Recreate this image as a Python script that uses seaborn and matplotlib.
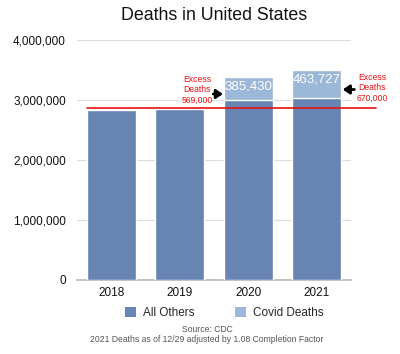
import matplotlib
matplotlib.use("Agg")
import matplotlib.pyplot as plt
import seaborn as sns
import pandas as pd
from matplotlib.patches import Patch

# data
years = ["2018", "2019", "2020", "2021"]
all_others = [2839205, 2854838, 2998299, 3036000]
covid_deaths = [0, 0, 385430, 463727]
baseline = 2860000
excess_labels = ["Excess\nDeaths\n569,000", "Excess\nDeaths\n670,000"]

dark = "#6784b2"
light = "#9cb8d8"
red = "#e81010"

sns.set_theme(style="white")
plt.rcParams["font.family"] = ["Liberation Sans", "DejaVu Sans"]

df = pd.DataFrame({"year": years, "others": all_others, "covid": covid_deaths})
df["total"] = df["others"] + df["covid"]

fig = plt.figure(figsize=(4, 3.54), dpi=100)
ax = fig.add_axes([77 / 400, 74 / 354, 274 / 400, 240 / 354])

# light (total) first, then dark (others) on top -> stacked look
sns.barplot(data=df, x="year", y="total", color=light, saturation=1,
            width=0.72, ax=ax, zorder=2)
sns.barplot(data=df, x="year", y="others", color=dark, saturation=1,
            width=0.72, ax=ax, zorder=3)

ax.set_ylim(0, 4000000)
ax.set_xlim(-0.5, 3.5)
ax.set_yticks([0, 1000000, 2000000, 3000000, 4000000])
ax.set_yticklabels([f"{v:,}" for v in ax.get_yticks().astype(int)])
ax.yaxis.grid(True, color="#dddddd", linewidth=0.8, zorder=0)
ax.set_axisbelow(True)
for s in ["left", "right", "top"]:
    ax.spines[s].set_visible(False)
ax.spines["bottom"].set_color("#bbbbbb")
ax.tick_params(axis="both", length=0, labelsize=8.5, colors="#111111")
ax.tick_params(axis="y", pad=8)
ax.tick_params(axis="x", pad=5)
ax.set_xlabel("")
ax.set_ylabel("")

# covid value labels inside the light segment
for i, (o, c) in enumerate(zip(all_others, covid_deaths)):
    if c > 0:
        ax.text(i, o + c - 60000, f"{c:,}", ha="center", va="top",
                color="white", fontsize=9.5, zorder=5)

# baseline red line
ax.plot([-0.355, 3.86], [baseline, baseline], color=red, lw=1.2,
        clip_on=False, zorder=6)

# excess deaths notes with arrows
arrow = dict(arrowstyle="-|>,head_width=0.22,head_length=0.32",
             color="black", lw=2.0, shrinkA=0, shrinkB=0)
ax.text(1.252, 3167000, excess_labels[0], ha="center", va="center",
        color=red, fontsize=6.2, linespacing=1.15)
ax.annotate("", xy=(1.63, 3100000), xytext=(1.49, 3100000), arrowprops=arrow)
ax.text(3.807, 3200000, excess_labels[1], ha="center", va="center",
        color=red, fontsize=6.2, linespacing=1.15, clip_on=False)
ax.annotate("", xy=(3.38, 3175000), xytext=(3.55, 3175000),
            annotation_clip=False, arrowprops=arrow)

fig.text(214 / 400, 1 - 15 / 354, "Deaths in United States", ha="center",
         va="center", fontsize=12.8, color="#111111")

handles = [Patch(facecolor=dark, edgecolor="none", label="All Others"),
           Patch(facecolor=light, edgecolor="none", label="Covid Deaths")]
fig.legend(handles=handles, loc="center", bbox_to_anchor=(224 / 400, 1 - 313 / 354),
           ncol=2, frameon=False, fontsize=8.5, handlelength=0.95,
           handleheight=0.95, handletextpad=0.6, columnspacing=3.4)

fig.text(207 / 400, 1 - 330 / 354, "Source: CDC", ha="center", va="center",
         fontsize=6.2, color="#555555")
fig.text(207 / 400, 1 - 340 / 354,
         "2021 Deaths as of 12/29 adjusted by 1.08 Completion Factor",
         ha="center", va="center", fontsize=6.2, color="#555555")

fig.savefig("out.png", dpi=100)
